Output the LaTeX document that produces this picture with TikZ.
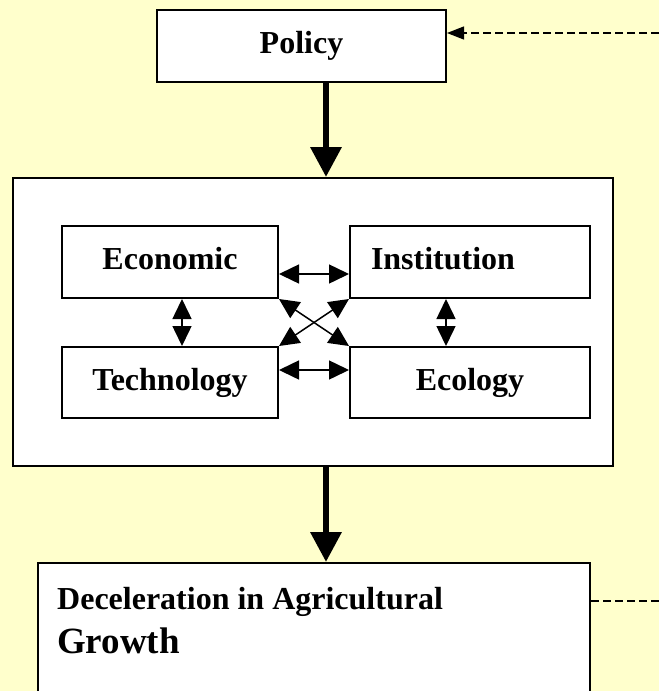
\documentclass[tikz,border=0pt]{standalone}
\usepackage{fontspec}
\setmainfont{Liberation Serif}
\usetikzlibrary{arrows.meta,calc}
\definecolor{figPaper}{RGB}{255,255,204}
\definecolor{figInk}{RGB}{0,0,0}
\definecolor{figWhite}{RGB}{255,255,255}
\tikzset{
  figbox/.style={draw=figInk,line width=2pt,fill=figWhite,inner sep=0pt},
  figlabel/.style={font=\bfseries\fontsize{32}{38}\selectfont,text=figInk,text height=22pt,text depth=7pt},
  figthick/.style={-{Triangle[length=30pt,width=30pt]},draw=figInk,line width=6.5pt},
  figpair/.style={{Triangle[length=20pt,width=19pt]}-{Triangle[length=20pt,width=19pt]},draw=figInk,line width=1.5pt},
  figfeed/.style={draw=figInk,line width=1.3pt,dash pattern=on 8pt off 4pt},
}

\begin{document}
\begin{tikzpicture}[x=1pt,y=-1pt]
% Page: 659 x 691, pale yellow ground.
\path[use as bounding box,fill=figPaper] (0,0) rectangle (659,691);
\coordinate (spine) at (326,0);
\coordinate (feedin) at (659,33);
\coordinate (feedout) at (659,601);

% Policy at the top, fed back from the right.
\node[figbox,figlabel,minimum width=289pt,minimum height=72pt] (policy) at (301.5,46) {Policy};
\draw[figfeed,-{Triangle[length=17pt,width=13pt]}] (feedin) -- (feedin -| policy.east);

% Frame holding the four interacting factors.
\node[figbox,minimum width=600pt,minimum height=288pt] (factors) at (313,322) {};
\node[figbox,figlabel,minimum width=216pt,minimum height=72pt] (econ) at (170,262) {Economic};
\node[figbox,figlabel,minimum width=240pt,minimum height=72pt,text width=198pt,align=left] (inst) at (470,262) {Institution};
\node[figbox,figlabel,minimum width=216pt,minimum height=71pt] (tech) at (170,382.5) {Technology};
\node[figbox,figlabel,minimum width=240pt,minimum height=71pt] (eco) at (470,382.5) {Ecology};

\draw[figpair] ([yshift=-12pt]econ.east) -- ([yshift=-12pt]inst.west);
\draw[figpair] ([yshift=12.5pt]tech.east) -- ([yshift=12.5pt]eco.west);
\draw[figpair] ([xshift=12pt]econ.south) -- ([xshift=12pt]tech.north);
\draw[figpair] ([xshift=-24pt]inst.south) -- ([xshift=-24pt]eco.north);
\draw[figpair] (econ.south east) -- (eco.north west);
\draw[figpair] (inst.south west) -- (tech.north east);

\draw[figthick] (policy.south -| spine) -- (factors.north -| spine);

% Outcome box, running off the bottom edge.
\node[figbox,anchor=north west,minimum width=552pt,minimum height=140pt] (decel) at (37,562) {};
\node[font=\bfseries\fontsize{32}{36}\selectfont,text=figInk,anchor=base west,inner sep=0pt] (decelline) at (57,609) {Deceleration in Agricultural};
\node[font=\bfseries\fontsize{37}{42}\selectfont,text=figInk,anchor=base west,inner sep=0pt] (growthline) at (57,653) {Growth};
\draw[figfeed] (decel.east |- feedout) -- (feedout);

\draw[figthick] (factors.south -| spine) -- (decel.north -| spine);
\end{tikzpicture}
\end{document}
